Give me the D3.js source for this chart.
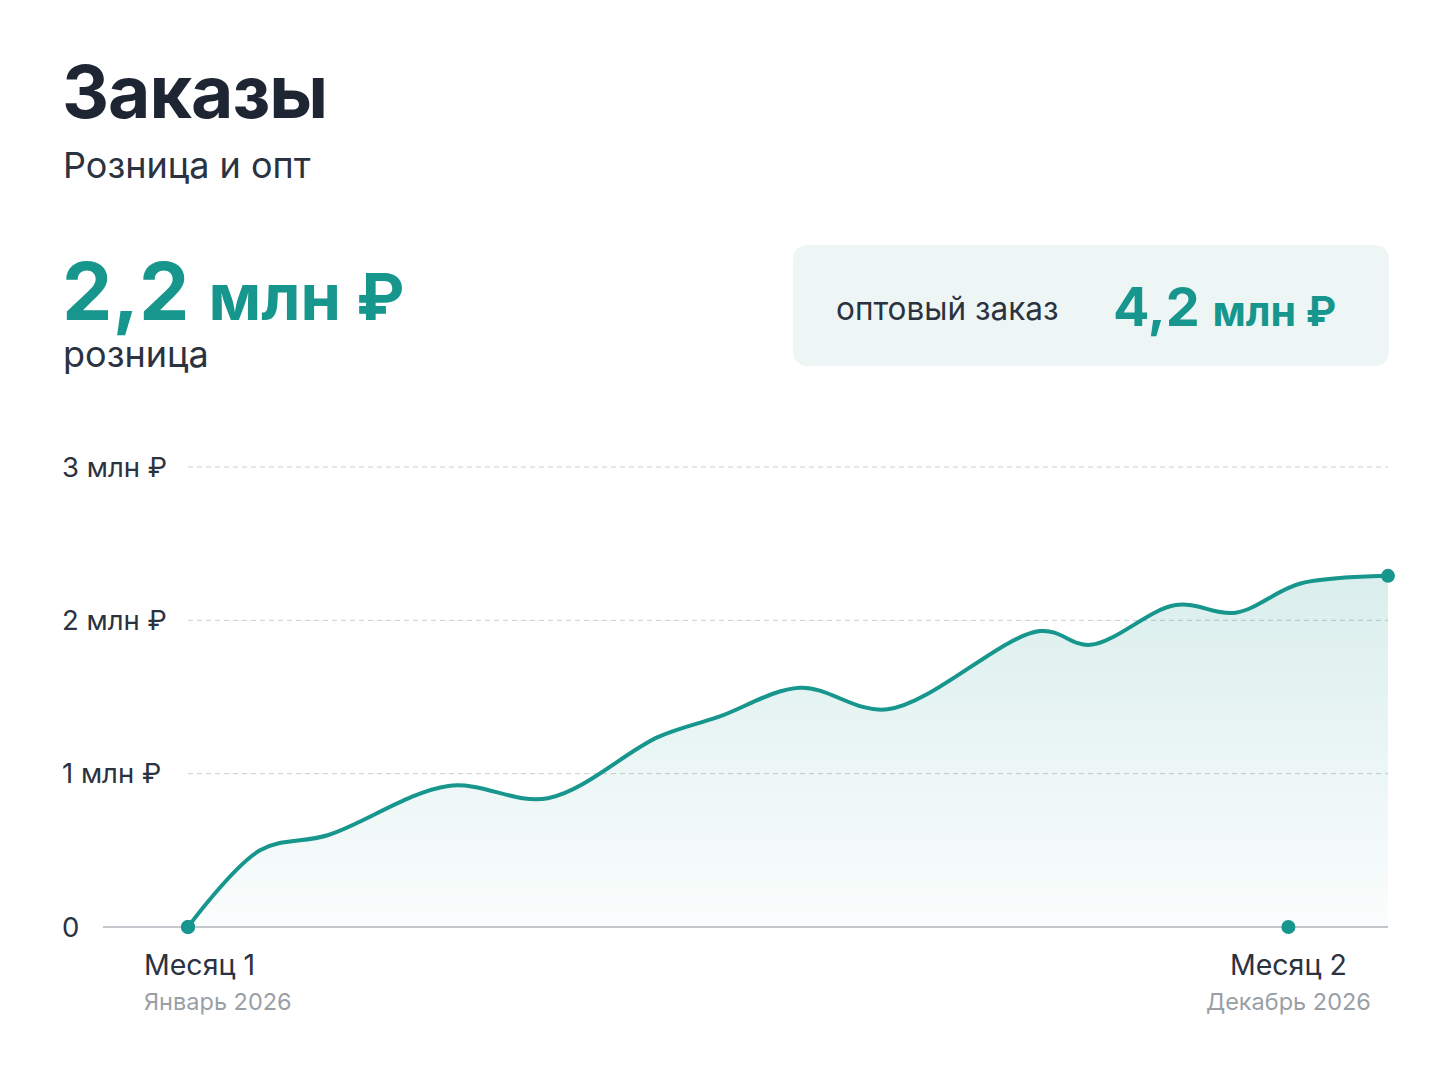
<!DOCTYPE html>
<html><head><meta charset="utf-8">
<script src="https://cdn.jsdelivr.net/npm/d3@7"></script>
<style>body{margin:0;background:#fff;font-family:Inter,"Noto Sans",sans-serif;}</style>
</head><body>
<svg id="chart" width="1448" height="1086"></svg>
<script>
// position within the period (0..100) and retail orders, mln ₽
var periodPos = [0, 6, 11.7, 21.7, 30, 39.2, 44.2, 51, 58.3, 71, 75.2, 82.3, 87.3, 92.7, 100];
var retail    = [0, 0.50, 0.60, 0.92, 0.84, 1.24, 1.37, 1.56, 1.42, 1.93, 1.84, 2.10, 2.05, 2.24, 2.29];
var yTicks = [0, 1, 2, 3];
var yTickLabels = ["0", "1 млн ₽", "2 млн ₽", "3 млн ₽"];
var monthPos = [0, 91.7];
var monthNames = ["Месяц 1", "Месяц 2"];
var monthDates = ["Январь 2026", "Декабрь 2026"];

var teal = "#16968c", dark = "#1e2533";
var svg = d3.select("#chart");

// header
svg.append("text").attr("x", 62).attr("y", 118).attr("font-size", 73).attr("font-weight", 700)
	.attr("fill", dark).attr("letter-spacing", -1).text("Заказы");
svg.append("text").attr("x", 63).attr("y", 178).attr("font-size", 36).attr("fill", "#2b3240").text("Розница и опт");

var big = svg.append("text").attr("x", 62).attr("y", 320).attr("fill", teal).attr("font-weight", 700);
big.append("tspan").attr("font-size", 80).text("2,2 ");
big.append("tspan").attr("font-size", 65).text("млн ₽");
svg.append("text").attr("x", 63).attr("y", 367).attr("font-size", 36).attr("fill", "#2b3240").text("розница");

svg.append("rect").attr("x", 793).attr("y", 245).attr("width", 596).attr("height", 121).attr("rx", 14)
	.attr("fill", "#eef6f5");
svg.append("text").attr("x", 836).attr("y", 320).attr("font-size", 31.5).attr("fill", "#2b3240").text("оптовый заказ");
var opt = svg.append("text").attr("x", 1113).attr("y", 326).attr("fill", teal).attr("font-weight", 700);
opt.append("tspan").attr("font-size", 54).text("4,2 ");
opt.append("tspan").attr("font-size", 41).text("млн ₽");

// scales
var x = d3.scaleLinear().domain([0, 100]).range([188, 1388]);
var y = d3.scaleLinear().domain([0, 3]).range([927, 467]);

// grid
yTicks.forEach(function(t, i) {
	if (t > 0) {
		svg.append("line").attr("x1", 188).attr("x2", 1388).attr("y1", y(t)).attr("y2", y(t))
			.attr("stroke", "#c9cdd2").attr("stroke-dasharray", "5,4");
	}
	svg.append("text").attr("x", 62).attr("y", y(t)).attr("dy", "0.35em").attr("font-size", 27.5)
		.attr("fill", "#2b3240").text(yTickLabels[i]);
});
svg.append("line").attr("x1", 103).attr("x2", 1388).attr("y1", y(0)).attr("y2", y(0))
	.attr("stroke", "#c4c8cc").attr("stroke-width", 2);

// gradient
var grad = svg.append("defs").append("linearGradient").attr("id", "fill")
	.attr("x1", 0).attr("y1", 0).attr("x2", 0).attr("y2", 1);
grad.append("stop").attr("offset", "0%").attr("stop-color", teal).attr("stop-opacity", 0.16);
grad.append("stop").attr("offset", "100%").attr("stop-color", teal).attr("stop-opacity", 0.02);

var data = periodPos.map(function(p, i) { return {p: p, v: retail[i]}; });
var curve = d3.curveCatmullRom.alpha(0.5);

svg.append("path").datum(data).attr("fill", "url(#fill)")
	.attr("d", d3.area().x(function(d) { return x(d.p); }).y0(y(0)).y1(function(d) { return y(d.v); }).curve(curve));
svg.append("path").datum(data).attr("fill", "none").attr("stroke", teal).attr("stroke-width", 4)
	.attr("d", d3.line().x(function(d) { return x(d.p); }).y(function(d) { return y(d.v); }).curve(curve));

// end points
[data[0], data[data.length - 1]].forEach(function(d) {
	svg.append("circle").attr("cx", x(d.p)).attr("cy", y(d.v)).attr("r", 7).attr("fill", teal);
});

// month markers
monthPos.forEach(function(p, i) {
	svg.append("circle").attr("cx", x(p)).attr("cy", y(0)).attr("r", 7).attr("fill", teal);
	var anchor = i == 0 ? "start" : "middle";
	var lx = i == 0 ? 144 : x(p);
	svg.append("text").attr("x", lx).attr("y", 975).attr("font-size", 28.5).attr("text-anchor", anchor)
		.attr("fill", "#2b3240").text(monthNames[i]);
	svg.append("text").attr("x", lx).attr("y", 1010).attr("font-size", 23.5).attr("text-anchor", anchor)
		.attr("fill", "#9a9fa6").text(monthDates[i]);
});
</script>
</body></html>
